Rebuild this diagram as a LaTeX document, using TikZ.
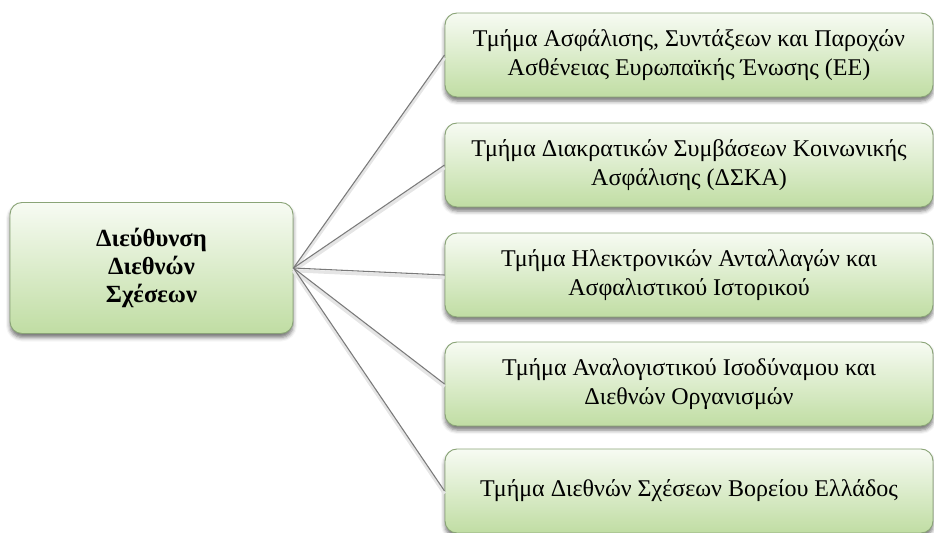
\documentclass[tikz,border=0pt]{standalone}
\usepackage{fontspec}
\setmainfont{Liberation Serif}
\usetikzlibrary{shadows.blur}
\definecolor{boxtop}{HTML}{F7FBF3}
\definecolor{boxbot}{HTML}{C0DDA3}
\definecolor{boxrim}{HTML}{8AA477}
\definecolor{linkgray}{HTML}{7A7A7A}
\begin{document}
\begin{tikzpicture}[x=0.75pt,y=-0.75pt,
  orgbox/.style={rounded corners=9pt, draw=boxrim, line width=0.7pt,
    top color=boxtop, bottom color=boxbot, align=center,
    blur shadow={shadow xshift=0pt, shadow yshift=-3pt, shadow blur radius=3pt, shadow opacity=55},
    font=\fontsize{18}{21.75}\selectfont},
  headbox/.style={orgbox, minimum width=212.25pt, minimum height=98.25pt,
    font=\fontsize{18.5}{21}\selectfont\bfseries},
  unitbox/.style={orgbox, minimum width=366pt, minimum height=63pt},
  linkhalo/.style={draw=gray!20, line width=2.5pt},
  link/.style={draw=linkgray, line width=0.8pt}]
  \useasboundingbox (0,0) rectangle (934,532);

  % directorate
  \node[headbox] (dir) at (151.5,268) {Διεύθυνση\\Διεθνών\\Σχέσεων};

  % departments
  \node[unitbox] (d1) at (689,55)  {Τμήμα Ασφάλισης, Συντάξεων και Παροχών\\Ασθένειας Ευρωπαϊκής Ένωσης (ΕΕ)};
  \node[unitbox] (d2) at (689,165) {Τμήμα Διακρατικών Συμβάσεων Κοινωνικής\\Ασφάλισης (ΔΣΚΑ)};
  \node[unitbox] (d3) at (689,275) {Τμήμα Ηλεκτρονικών Ανταλλαγών και\\Ασφαλιστικού Ιστορικού};
  \node[unitbox] (d4) at (689,384) {Τμήμα Αναλογιστικού Ισοδύναμου και\\Διεθνών Οργανισμών};
  \node[unitbox] (d5) at (689,491) {Τμήμα Διεθνών Σχέσεων Βορείου Ελλάδος};

  % connectors, each over a soft halo
  \foreach \d in {d1,d2,d3,d4,d5}{
    \draw[linkhalo, transform canvas={yshift=-2pt}] (dir.east) -- (\d.west);
  }
  \foreach \d in {d1,d2,d3,d4,d5}{
    \draw[link] (dir.east) -- (\d.west);
  }
\end{tikzpicture}
\end{document}
